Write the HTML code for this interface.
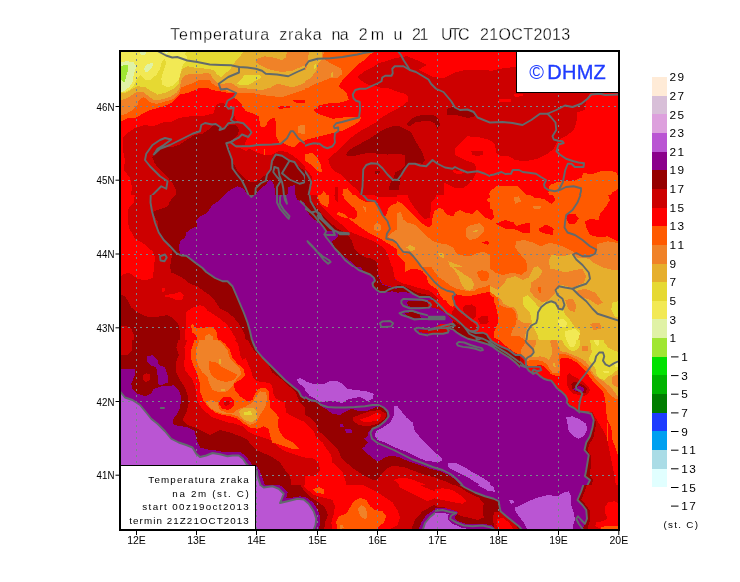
<!DOCTYPE html>
<html><head><meta charset="utf-8"><title>Temperatura zraka na 2m</title>
<style>
html,body{margin:0;padding:0;background:#fff;}
body{width:740px;height:582px;overflow:hidden;position:relative;font-family:"Liberation Sans",sans-serif;}
svg{position:absolute;left:0;top:0;display:block;will-change:transform}
text{font-family:"Liberation Sans",sans-serif;fill:#000}
.t{stroke:#fff;stroke-width:0.3}
.b{fill:none;stroke:#626a6c;stroke-width:1.9;stroke-linejoin:round;stroke-linecap:round;vector-effect:non-scaling-stroke}
.g{stroke:#78868c;stroke-width:1;stroke-dasharray:2 4;fill:none;shape-rendering:crispEdges}
.gv{stroke-dasharray:2.4 3.6}
</style></head><body>
<svg width="740" height="582" viewBox="0 0 740 582">
<rect width="740" height="582" fill="#fff"/>
<defs><clipPath id="plot"><rect x="120" y="51" width="499" height="479"/></clipPath>
<clipPath id="cA"><path clip-rule="evenodd" d="M120 50H305V195H120Z"/></clipPath>
<clipPath id="cB"><path clip-rule="evenodd" d="M305 50H490V195H305Z"/></clipPath>
<clipPath id="cC"><path clip-rule="evenodd" d="M490 50H675V195H490Z"/></clipPath>
<clipPath id="cD"><path clip-rule="evenodd" d="M120 195H305V340H120Z"/></clipPath>
<clipPath id="cE1"><path clip-rule="evenodd" d="M305 195H397V267H305Z"/></clipPath>
<clipPath id="cE2"><path clip-rule="evenodd" d="M397 195H490V267H397Z"/></clipPath>
<clipPath id="cE3"><path clip-rule="evenodd" d="M305 267H397V340H305Z"/></clipPath>
<clipPath id="cE4"><path clip-rule="evenodd" d="M397 267H490V340H397ZM428 300H520V372H428Z"/></clipPath>
<clipPath id="cF"><path clip-rule="evenodd" d="M490 195H675V340H490ZM428 300H520V372H428Z"/></clipPath>
<clipPath id="cG"><path clip-rule="evenodd" d="M120 340H305V485H120Z"/></clipPath>
<clipPath id="cH"><path clip-rule="evenodd" d="M305 340H490V485H305ZM428 300H520V372H428Z"/></clipPath>
<clipPath id="cI1"><path clip-rule="evenodd" d="M490 340H560V412H490ZM428 300H520V372H428Z"/></clipPath>
<clipPath id="cI2"><path clip-rule="evenodd" d="M560 340H675V412H560Z"/></clipPath>
<clipPath id="cI"><path clip-rule="evenodd" d="M490 412H675V485H490Z"/></clipPath>
<clipPath id="cK1"><path clip-rule="evenodd" d="M250 485H435V535H250Z"/></clipPath>
<clipPath id="cK2"><path clip-rule="evenodd" d="M435 485H620V535H435Z"/></clipPath>
<clipPath id="cP3"><path clip-rule="evenodd" d="M428 300H520V372H428Z"/></clipPath>
</defs>
<g clip-path="url(#plot)" shape-rendering="crispEdges">
<g clip-path="url(#cA)"><g transform="translate(120,50) scale(0.25)">
<rect x="-20" y="-20" width="800" height="640" fill="#ff0000"/>
<polygon fill="#cd0000" points="10,352 30,332 60,312 100,300 130,306 180,286 204,288 234,272 284,265 334,263 374,253 384,220 404,210 419,215 424,230 444,240 456,250 459,270 470,288 488,288 518,313 528,328 513,348 503,363 498,378 468,388 435,388 300,600 40,600 48,550 40,510 15,480 20,440 12,400"/>
<polygon fill="#cd0000" points="610,420 623,410 638,403 668,408 693,423 718,443 738,463 760,475 760,600 600,600 610,440"/>
<polygon fill="#960000" points="130,430 140,400 165,385 200,390 235,380 265,360 300,340 330,335 360,315 368,303 383,300 403,313 423,308 443,298 468,303 475,318 473,338 458,353 443,363 428,375 435,385 618,433 628,423 648,425 668,438 698,453 738,483 760,495 760,600 225,600 225,560 212,535 195,515 175,495 155,475 140,455"/>
<polygon fill="#cd0000" points="435,385 463,390 488,395 503,405 518,395 543,408 578,420 603,420 618,413 615,438 610,458 598,483 583,498 563,515 543,528 523,530 498,513 473,488 453,453 443,418"/>
<polygon fill="#8b008b" points="418,578 443,558 468,545 493,553 503,568 508,578 508,600 418,600"/>
<polygon fill="#8b008b" points="543,578 558,558 583,538 598,518 613,533 618,553 618,600 543,600"/>
<polygon fill="#8b008b" points="670,578 673,548 698,540 700,600 670,600"/>
<polygon fill="#ff5a00" points="0,289 30,272 65,270 90,255 120,240 165,228 200,215 220,200 240,178 270,172 300,160 320,150 350,150 368,160 398,165 433,172 463,174 456,190 473,203 488,220 503,245 533,255 556,265 560,300 568,310 585,305 590,288 596,280 608,273 620,272 623,288 625,348 638,370 658,375 678,385 698,388 718,368 738,363 760,360 760,-10 0,-10"/>
<polygon fill="#ff0000" points="693,200 738,198 760,200 760,210 713,212 695,208"/>
<polygon fill="#ff0000" points="630,225 678,222 680,232 638,235"/>
<polygon fill="#ff5a00" points="577,395 581,395 581,420 577,420"/>
<polygon fill="#f08228" points="0,262 25,255 50,240 70,220 75,200 95,188 110,200 125,212 150,215 185,205 215,195 235,175 245,150 265,142 285,135 310,122 340,118 356,118 370,135 390,148 410,155 428,165 468,172 518,170 568,180 608,185 648,188 688,175 718,165 738,158 760,150 760,-10 0,-10"/>
<polygon fill="#f08228" points="710,303 738,300 760,300 760,335 738,335 713,333"/>
<polygon fill="#e6af2d" points="0,202 30,192 55,175 70,168 95,170 115,185 135,200 165,198 200,188 225,172 240,150 245,120 260,100 280,97 300,97 325,95 350,92 362,98 372,115 392,132 410,138 430,130 450,135 473,150 518,155 568,160 603,150 628,135 653,140 688,150 718,140 738,132 760,128 760,-10 0,-10"/>
<polygon fill="#f08228" points="545,50 548,35 578,25 613,30 648,40 663,30 668,8 668,-10 760,-10 760,55 738,62 718,70 693,82 648,88 603,80 568,65"/>
<polygon fill="#e6d932" points="0,175 25,170 50,155 70,145 100,148 125,165 150,178 185,170 215,155 235,135 240,100 250,75 269,65 309,72 349,75 374,80 389,98 404,108 419,95 439,80 454,55 469,38 484,20 494,8 494,-10 0,-10"/>
<polygon fill="#e6d932" points="469,135 499,100 556,99 566,110 534,128 511,140 479,140"/>
<polygon fill="#f2e954" points="0,170 30,165 55,145 65,120 80,100 100,118 120,120 145,100 160,75 168,45 178,35 185,50 175,80 165,115 170,140 190,150 215,140 235,120 243,90 248,65 260,50 270,30 260,15 265,8 265,-10 0,-10"/>
<polygon fill="#e0f2a6" points="0,48 30,45 55,50 65,65 55,100 50,130 35,150 15,165 0,168"/>
<polygon fill="#e0f2a6" points="95,75 108,58 128,50 134,60 120,80 103,92"/>
<polygon fill="#e0f2a6" points="75,0 110,0 100,20 85,22"/>
<polygon fill="#e0f2a6" points="165,0 200,0 185,15"/>
<polygon fill="#a0e632" points="0,65 22,59 32,62 31,85 22,115 17,131 0,115"/>
</g></g>
<g clip-path="url(#cB)"><g transform="translate(305,50) scale(0.25)">
<rect x="-20" y="-20" width="800" height="640" fill="#ff0000"/>
<polygon fill="#cd0000" points="209,108 234,88 269,70 294,53 329,43 359,33 384,28 409,25 434,35 464,48 487,60 469,70 454,80 484,95 514,108 554,113 570,105 600,90 640,80 700,78 760,85 760,600 220,600 220,578 210,558 190,543 170,523 145,498 115,483 100,463 93,435 125,408 150,383 175,358 200,338 230,318 260,303 284,290 299,275 324,260 349,245 369,235 394,220 412,205 414,185 399,175 364,165 334,153 299,150 284,145 254,140 229,125"/>
<polygon fill="#ff0000" points="600,395 625,370 650,345 700,350 760,365 760,455 700,470 680,455 640,440 600,420"/>
<polygon fill="#cd0000" points="665,405 710,402 712,418 690,425 668,418"/>
<polygon fill="#ff0000" points="590,480 640,488 620,498 595,492"/>
<polygon fill="#ff0000" points="640,440 656,435 681,460 686,485 676,510 661,530 636,550 601,553 576,540 556,530 556,600 760,600 760,440"/>
<polygon fill="#cd0000" points="0,473 15,488 28,508 30,533 20,558 18,600 0,600"/>
<polygon fill="#960000" points="0,493 12,508 20,528 15,553 10,600 0,600"/>
<polygon fill="#cd0000" points="120,578 122,548 132,546 132,578"/>
<polygon fill="#960000" points="163,418 175,403 200,385 230,370 260,353 290,333 320,315 350,305 375,303 400,315 425,330 440,360 455,385 470,410 480,440 470,455 440,450 415,455 400,480 385,500 380,530 375,560 335,560 340,535 355,510 360,490 380,480 400,460 400,420 370,415 330,418 290,415 260,410 220,418 195,425 170,425"/>
<polygon fill="#960000" points="405,300 420,280 445,265 480,258 515,260 535,275 540,300 530,315 520,295 500,285 470,285 440,290 420,305"/>
<polygon fill="#960000" points="568,235 590,228 610,235 640,240 670,248 680,265 650,272 610,262 570,260"/>
<polygon fill="#960000" points="278,485 300,483 302,490 290,498 280,495"/>
<polygon fill="#ff5a00" points="0,-10 274,-10 274,8 259,20 239,40 214,55 194,75 175,95 150,120 135,145 165,170 175,200 140,210 100,212 60,220 35,240 50,255 80,265 110,275 150,270 190,268 225,270 215,288 190,303 150,323 100,335 50,348 0,360"/>
<polygon fill="#ff5a00" points="0,415 30,413 50,433 63,458 68,488 50,485 30,463 0,443"/>
<polygon fill="#ff5a00" points="65,578 75,563 85,578"/>
<polygon fill="#ff5a00" points="150,578 153,558 170,553 190,578"/>
<polygon fill="#f08228" points="0,-10 80,-10 70,30 95,50 145,75 150,95 130,110 100,112 70,125 40,135 15,150 0,152"/>
<polygon fill="#e6af2d" points="103,92 112,87 111,108 105,110"/>
<polygon fill="#e6af2d" points="17,-10 66,-10 70,34 52,52 45,83 24,111 -11,132 -11,90 0,85 10,62 12,40"/>
<polygon fill="#e6d932" points="35,62 42,55 44,72 38,76"/>
<polygon fill="#ff5a00" points="726,600 741,565 760,548 760,600"/>
</g></g>
<g clip-path="url(#cC)"><g transform="translate(490,50) scale(0.25)">
<rect x="-20" y="-20" width="800" height="640" fill="#ff0000"/>
<polygon fill="#cd0000" points="-20,85 0,85 40,75 80,70 110,65 110,0 420,0 400,170 385,200 378,240 350,250 345,290 335,320 310,340 290,350 270,365 255,395 230,415 190,435 140,445 101,440 76,425 41,423 24,410 21,380 6,365 -20,367"/>
<polygon fill="#ff0000" points="95,175 130,174 132,185 100,187"/>
<polygon fill="#ff0000" points="35,197 85,196 86,207 38,208"/>
<polygon fill="#ff5a00" points="-14,600 1,565 26,545 66,545 111,543 136,570 156,588 186,600"/>
<polygon fill="#ff5a00" points="234,570 239,540 264,530 299,523 334,525 354,515 369,510 371,490 384,490 394,498 414,495 444,485 484,483 504,490 514,505 514,555 489,570 474,600 240,600"/>
</g></g>
<g clip-path="url(#cD)"><g transform="translate(120,195) scale(0.25)">
<rect x="-20" y="-20" width="800" height="640" fill="#cd0000"/>
<polygon fill="#960000" points="225,-5 212,10 200,25 192,45 165,55 135,65 132,75 150,105 150,130 165,170 185,195 210,225 205,260 200,290 205,310 230,320 255,335 280,355 310,365 335,385 360,400 385,430 400,455 430,470 455,490 475,515 490,540 500,560 505,600 620,600 620,-5"/>
<polygon fill="#960000" points="0,398 20,405 30,420 45,450 70,470 100,485 130,490 160,485 190,480 215,495 235,520 240,550 240,600 0,600"/>
<polygon fill="#cd0000" points="0,525 20,523 45,535 55,560 55,600 0,600"/>
<polygon fill="#ff0000" points="0,-5 60,-5 55,30 35,50 30,80 35,130 60,175 95,195 130,225 140,250 135,290 133,330 100,342 70,335 35,310 10,318 0,330"/>
<polygon fill="#ff0000" points="165,375 178,372 182,382 170,388"/>
<polygon fill="#ff0000" points="180,400 215,395 240,388 255,400 250,418 225,420 200,410 182,408"/>
<polygon fill="#ff0000" points="265,470 285,452 320,440 340,448 350,462 370,475 400,495 425,515 440,535 455,560 468,585 470,600 260,600 262,535 265,500"/>
<polygon fill="#ff5a00" points="285,520 290,515 300,530 340,530 365,528 385,540 390,570 400,600 312,600 305,560 288,550"/>
<polygon fill="#f08228" points="340,565 355,555 370,565 372,600 340,600"/>
<polygon fill="#8b008b" points="420,-5 405,15 385,30 370,40 360,55 345,75 320,85 305,100 310,125 285,135 265,150 260,170 240,185 235,210 240,235 265,240 300,268 330,290 345,305 380,330 410,345 430,345 450,365 465,400 480,435 495,470 510,510 520,545 530,600 760,600 760,-5"/>
<polygon fill="#960000" points="508,-5 543,-5 535,5 520,8"/>
<polygon fill="#960000" points="700,-5 760,-5 760,40 735,30 710,20"/>
</g></g>
<g clip-path="url(#cE1)"><g transform="translate(305,195) scale(0.125)">
<rect x="-20" y="-20" width="800" height="640" fill="#ff0000"/>
<polygon fill="#cd0000" points="60,-10 95,-10 110,60 150,110 200,160 260,210 310,250 350,290 400,310 450,330 500,350 560,375 610,410 650,450 670,500 700,590 400,590 0,200 -10,-10"/>
<polygon fill="#cd0000" points="230,-10 265,-10 265,60 245,40"/>
<polygon fill="#960000" points="-10,-10 30,-10 60,60 100,110 150,170 200,220 260,270 300,290 340,320 370,355 385,400 400,440 440,475 490,500 540,510 575,540 580,590 400,590 -10,300"/>
<polygon fill="#8b008b" points="-10,100 0,110 30,150 60,185 100,215 140,250 170,285 210,290 225,275 250,290 270,320 250,345 215,375 240,420 275,460 310,490 350,520 390,550 420,590 -10,590"/>
<polygon fill="#ff5a00" points="105,-10 190,-10 190,60 180,100 150,85 120,60 105,30"/>
<polygon fill="#ff5a00" points="300,-10 320,40 350,70 390,100 415,130 420,170 400,190 330,185 280,170 250,150 270,135 310,150 340,180 380,210 420,240 460,270 500,295 540,320 580,340 620,360 660,385 700,410 750,445 750,-10"/>
<polygon fill="#ff0000" points="395,-10 430,25 470,50 520,60 560,55 585,90 600,130 640,170 655,150 665,110 690,80 750,60 750,-10"/>
<polygon fill="#cd0000" points="540,-10 580,15 650,20 750,15 750,-10"/>
<polygon fill="#f08228" points="550,245 575,225 605,240 610,275 590,290 555,280"/>
<polygon fill="#f08228" points="665,330 700,300 750,265 750,410 720,360 680,350"/>
<polygon fill="#f08228" points="460,90 490,95 488,140"/>
</g></g>
<g clip-path="url(#cE2)"><g transform="translate(397,195) scale(0.125)">
<rect x="-20" y="-20" width="800" height="640" fill="#ff5a00"/>
<polygon fill="#ff0000" points="-10,45 0,50 40,70 80,110 130,160 180,210 230,250 260,260 280,230 285,170 300,130 340,100 370,120 400,160 450,170 465,140 500,120 550,145 610,150 640,115 665,140 700,180 750,195 750,-10 -10,-10"/>
<polygon fill="#cd0000" points="80,-10 320,-10 300,30 275,60 270,120 260,185 220,190 180,150 140,100 100,40"/>
<polygon fill="#f08228" points="-10,160 0,150 25,130 40,160 50,195 90,225 130,230 170,260 210,300 250,340 290,370 330,385 400,395 450,420 470,460 500,480 560,490 600,485 640,465 690,455 750,485 750,590 200,590 170,540 130,490 100,460 50,455 0,400 -10,390"/>
<polygon fill="#ff0000" points="-10,470 0,480 60,540 70,590 -10,590"/>
<polygon fill="#f08228" points="550,270 580,245 660,225 700,260 690,300 640,345 580,360 550,330"/>
<polygon fill="#e6af2d" points="605,285 650,282 640,298 610,298"/>
<polygon fill="#e6af2d" points="75,420 100,400 140,420 145,440 110,450"/>
<polygon fill="#e6af2d" points="325,460 370,460 380,510 340,490"/>
<polygon fill="#e6af2d" points="410,530 450,545 520,570 520,590 430,590"/>
<polygon fill="#ff0000" points="680,380 720,365 735,380 730,400 700,390"/>
<polygon fill="#ff5a00" points="720,30 750,15 750,60 725,55"/>
</g></g>
<g clip-path="url(#cE3)"><g transform="translate(305,267) scale(0.125)">
<rect x="-20" y="-20" width="800" height="640" fill="#8b008b"/>
<polygon fill="#ff0000" points="700,-10 750,-10 750,115 720,95 710,50"/>
<polygon fill="#cd0000" points="580,-10 700,-10 710,50 720,100 750,118 750,170 700,160 660,150 620,135 600,100 585,60"/>
<polygon fill="#960000" points="440,-10 580,-10 585,60 600,110 620,140 660,155 700,165 750,182 750,205 700,195 650,200 600,200 570,180 545,150 560,100 545,80 510,55 470,35"/>
</g></g>
<g clip-path="url(#cE4)"><g transform="translate(397,267) scale(0.125)">
<rect x="-20" y="-20" width="800" height="640" fill="#ff0000"/>
<polygon fill="#cd0000" points="-10,105 0,110 40,130 100,145 150,160 200,175 260,190 310,230 340,270 380,310 420,340 460,370 520,400 560,420 600,440 640,470 680,510 720,540 750,560 750,590 -10,590"/>
<polygon fill="#cd0000" points="520,330 550,305 600,300 635,320 635,380 610,420 560,410 525,370"/>
<polygon fill="#cd0000" points="650,420 690,395 730,400 735,440 700,465 660,455"/>
<polygon fill="#960000" points="-10,135 0,140 60,155 100,175 150,200 200,215 260,225 300,255 340,295 380,340 420,375 450,392 480,398 530,393 580,418 620,443 650,465 680,500 710,530 750,565 750,590 -10,590"/>
<polygon fill="#8b008b" points="-10,205 0,205 60,200 120,215 180,240 260,240 310,275 350,320 390,365 430,395 470,420 520,460 560,500 600,520 640,530 660,525 700,535 730,555 750,590 -10,590"/>
<polygon fill="#960000" points="80,285 100,268 180,268 240,280 258,300 240,322 120,324 90,310"/>
<polygon fill="#960000" points="60,370 120,360 180,380 190,405 140,410 90,395"/>
<polygon fill="#cd0000" points="170,500 230,505 300,495 400,500 395,530 300,535 230,530 180,520"/>
<polygon fill="#ff5a00" points="60,45 100,20 150,15 200,30 240,80 250,130 290,160 320,180 340,220 370,260 400,290 430,310 460,330 465,300 455,250 440,230 460,215 500,225 560,235 620,225 680,210 750,198 750,-10 60,-10"/>
<polygon fill="#f08228" points="270,-10 300,40 340,85 390,120 430,150 480,175 530,185 570,195 620,190 650,170 700,160 750,138 750,-10"/>
<polygon fill="#e6af2d" points="430,-10 500,30 540,60 590,90 615,130 610,170 580,190 540,175 510,130 495,80 470,40"/>
<polygon fill="#ff5a00" points="640,40 680,25 730,40 740,80 720,110 680,115 650,80"/>
</g></g>
<g clip-path="url(#cF)"><g transform="translate(490,195) scale(0.25)">
<rect x="-20" y="-20" width="800" height="640" fill="#ff5a00"/>
<polygon fill="#ff0000" points="470,-5 530,-5 530,195 500,180 470,165 440,170 400,160 385,130 380,105 400,95 435,100 440,75 465,45 480,20"/>
<polygon fill="#ff0000" points="155,-5 250,-5 262,20 245,35 215,15 180,12"/>
<polygon fill="#ff0000" points="-5,50 12,60 15,90 5,100 -5,100"/>
<polygon fill="#ff0000" points="20,115 60,100 95,110 105,125 130,115 160,112 160,150 130,150 95,135 60,135"/>
<polygon fill="#ff0000" points="195,135 225,118 255,135 250,160 225,155 200,148"/>
<polygon fill="#ff0000" points="310,75 340,75 355,95 340,115 315,115 305,95"/>
<polygon fill="#f08228" points="95,10 115,5 125,25 100,35"/>
<polygon fill="#f08228" points="170,42 205,42 200,58 175,55"/>
<polygon fill="#f08228" points="105,185 135,180 170,190 205,205 240,190 290,205 330,225 345,240 395,250 425,225 430,195 470,185 530,195 530,600 -5,600 -5,290 20,310 50,320 90,310 125,320 150,300 145,265 120,235 100,210"/>
<polygon fill="#e6af2d" points="235,260 245,240 290,245 330,235 350,250 395,255 420,275 450,290 490,300 530,300 530,600 -5,600 -5,360 30,380 60,350 65,335 100,325 130,340 155,330 175,290 190,285 210,305 240,295"/>
<polygon fill="#f08228" points="210,305 195,330 165,350 160,385 180,410 210,430 235,420 260,395 262,375 285,360 330,370 375,350 385,325 370,295 340,300 300,310 270,300 240,295"/>
<polygon fill="#f08228" points="300,420 330,415 345,440 340,470 315,460"/>
<polygon fill="#f08228" points="340,385 380,375 420,390 450,430 430,440 400,420 360,405"/>
<polygon fill="#f08228" points="400,515 440,510 445,535 415,540"/>
<polygon fill="#f08228" points="30,405 45,420 60,445 90,455 105,485 120,505 140,513 165,513 155,525 145,540 140,565 150,600 35,600 30,500"/>
<polygon fill="#ff5a00" points="-5,385 15,398 30,410 35,420 40,445 55,470 70,495 75,530 85,565 120,568 135,575 140,600 -5,600"/>
<polygon fill="#ff5a00" points="192,370 204,368 205,390 195,392"/>
<polygon fill="#ff0000" points="-5,395 15,410 15,420 28,450 33,485 33,520 18,540 15,565 35,600 -5,600"/>
<polygon fill="#e6d932" points="130,410 150,400 175,425 195,450 215,430 245,420 262,435 270,460 295,455 300,480 320,500 340,530 360,540 350,600 200,600 190,560 170,520 160,470 135,445"/>
<polygon fill="#e6d932" points="490,430 530,420 530,490 500,488 485,460"/>
<polygon fill="#f2e954" points="270,500 295,495 310,515 300,530 275,525"/>
<polygon fill="#f2e954" points="300,545 340,535 360,555 345,600 305,600"/>
</g></g>
<g clip-path="url(#cG)"><g transform="translate(120,340) scale(0.25)">
<rect x="-20" y="-20" width="800" height="640" fill="#cd0000"/>
<polygon fill="#960000" points="-5,-5 235,-5 225,30 235,60 222,95 225,130 240,160 260,190 270,220 275,250 265,290 250,320 270,340 300,350 330,365 360,380 380,370 400,360 440,370 480,385 510,400 530,425 545,440 580,455 610,470 640,490 660,520 680,545 690,600 -5,600"/>
<polygon fill="#960000" points="511,-5 524,25 539,45 564,65 584,85 599,110 609,130 629,145 649,160 669,180 689,195 704,210 711,230 719,250 734,265 749,280 765,295 765,-5"/>
<polygon fill="#cd0000" points="-5,-5 50,-5 48,40 30,60 -5,62"/>
<polygon fill="#cd0000" points="92,140 105,133 120,138 120,158 105,168 92,160"/>
<polygon fill="#ff0000" points="270,-5 258,30 262,60 255,95 262,125 285,150 300,185 305,215 310,245 325,270 345,290 370,310 400,320 430,330 460,335 490,345 510,365 540,380 570,390 600,400 625,420 650,440 690,455 720,465 760,475 760,335 720,320 690,305 664,290 662,270 659,250 644,245 624,235 614,215 612,195 604,175 584,170 549,165 532,150 524,120 512,95 504,73 489,80 479,55 477,30 469,10 449,-5"/>
<polygon fill="#8b008b" points="530,-5 545,40 570,70 600,100 630,130 660,160 690,185 715,205 725,225 740,235 760,238 760,-5"/>
<polygon fill="#ba55d3" points="709,155 724,153 744,165 764,175 794,185 794,232 774,228 759,210 744,195 724,180 711,170"/>
<polygon fill="#8b008b" points="-5,115 60,115 60,140 45,175 50,195 70,215 100,225 125,215 135,195 165,185 195,185 215,180 235,200 245,230 240,270 225,300 210,320 215,340 245,345 270,350 300,365 305,400 320,430 345,437 370,440 400,445 425,450 450,448 480,448 500,460 517,483 530,500 548,503 560,525 570,550 578,575 590,585 590,600 -5,600"/>
<polygon fill="#8b008b" points="110,65 130,60 150,80 155,100 180,110 190,140 190,170 165,182 150,175 150,140 145,110 120,100 108,85"/>
<polygon fill="#ba55d3" points="-5,200 0,205 20,230 50,240 80,260 105,290 125,315 150,335 180,365 205,395 235,410 265,420 290,430 305,455 320,468 345,462 370,452 400,457 430,465 450,462 475,462 492,475 505,495 520,508 540,518 548,525 550,545 555,560 562,580 570,592 570,600 -5,600"/>
<polygon fill="#ff5a00" points="300,-5 285,40 285,75 295,105 310,140 320,175 322,210 335,245 355,270 380,290 410,300 440,305 470,315 495,335 520,350 550,355 575,345 595,355 600,380 610,410 640,420 670,430 700,438 715,435 690,410 660,395 640,370 630,340 635,310 620,290 600,270 598,240 595,205 580,190 555,195 540,215 530,240 510,245 480,225 460,200 455,175 480,160 500,140 495,115 470,95 450,70 440,40 420,15 395,-5"/>
<polygon fill="#ff0000" points="395,245 410,230 440,228 458,245 455,265 435,280 410,275 398,260"/>
<polygon fill="#cd0000" points="415,245 435,243 440,255 425,265 415,258"/>
<polygon fill="#f08228" points="320,-5 305,40 305,75 315,105 330,130 350,150 360,180 370,200 400,210 430,205 445,190 470,150 485,135 480,115 460,95 440,75 430,40 410,15 385,-5"/>
<polygon fill="#ff5a00" points="358,85 385,90 410,110 440,125 470,140 455,160 425,168 390,160 365,140 355,110"/>
<polygon fill="#e6af2d" points="395,78 404,75 406,95 397,97"/>
<polygon fill="#e6af2d" points="403,196 420,195 420,202 404,203"/>
<polygon fill="#f08228" points="345,250 365,240 390,250 400,280 425,290 455,290 475,275 505,265 530,250 545,225 560,205 585,210 588,240 580,270 560,300 545,330 520,340 495,325 470,305 440,295 410,295 380,285 360,270"/>
<polygon fill="#e6af2d" points="475,285 495,272 530,270 550,285 548,315 525,330 500,320 482,305"/>
<polygon fill="#e6d932" points="495,287 525,285 527,300 497,302"/>
</g></g>
<g clip-path="url(#cH)"><g transform="translate(305,340) scale(0.25)">
<rect x="-20" y="-20" width="800" height="640" fill="#8b008b"/>
<polygon fill="#ba55d3" points="-5,160 0,165 30,175 70,178 100,165 130,165 150,175 170,195 200,200 245,205 275,215 270,235 250,245 235,235 220,228 195,232 165,240 150,252 120,245 90,245 60,248 40,235 20,225 0,200 -5,195"/>
<polygon fill="#ba55d3" points="355,265 370,265 390,290 405,310 430,330 440,365 465,395 490,420 520,450 545,470 550,485 520,488 480,482 440,465 400,445 360,430 320,410 290,400 278,380 285,365 310,350 340,330 355,300"/>
<polygon fill="#ba55d3" points="570,490 600,490 640,510 670,530 700,545 740,570 760,585 760,600 720,600 700,580 660,555 620,535 590,520 570,505"/>
<polygon fill="#960000" points="-5,232 20,245 45,250 65,265 90,280 110,295 140,300 165,285 185,275 215,285 250,282 280,270 300,265 318,275 328,290 330,305 318,322 295,340 270,352 255,365 250,385 235,395 250,410 240,425 228,435 250,455 275,475 290,488 320,470 345,462 380,470 420,488 460,500 500,515 540,525 575,540 600,558 620,580 640,600 -5,600"/>
<polygon fill="#cd0000" points="-5,298 0,300 20,310 45,335 55,365 80,385 105,410 130,435 145,470 165,490 195,515 240,545 270,560 290,558 320,520 350,502 400,510 440,525 480,540 520,550 560,565 600,585 640,610 -5,610"/>
<polygon fill="#ff0000" points="-5,328 0,330 15,345 35,365 45,390 70,410 90,440 105,460 110,490 130,510 150,530 160,555 170,600 -5,600"/>
<polygon fill="#cd0000" points="-5,470 30,472 55,490 60,520 40,545 -5,545"/>
<polygon fill="#ff0000" points="355,560 380,550 420,555 460,570 500,585 540,600 420,600 380,580"/>
<polygon fill="#cd0000" points="190,310 215,300 260,285 300,280 325,295 320,315 290,335 250,345 215,340 195,325"/>
<polygon fill="#ff0000" points="220,318 250,308 290,290 305,300 295,320 260,328 230,326"/>
<polygon fill="#8b008b" points="140,338 153,336 155,348 142,349"/>
<polygon fill="#8b008b" points="158,355 185,355 190,370 165,372"/>
<polygon fill="#cd0000" points="670,-5 760,-5 760,20 720,8"/>
</g></g>
<g clip-path="url(#cI1)"><g transform="translate(490,340) scale(0.125)">
<rect x="-20" y="-20" width="800" height="640" fill="#ff0000"/>
<polygon fill="#cd0000" points="-10,40 60,70 110,100 150,125 190,150 215,140 245,135 270,160 280,215 300,255 345,290 395,305 430,330 480,340 510,370 560,420 590,445 620,480 650,550 750,590 -10,590"/>
<polygon fill="#cd0000" points="600,350 620,290 640,270 660,290 680,330 720,340 750,335 750,400 700,400 660,395 640,420 610,400"/>
<polygon fill="#960000" points="660,350 700,340 750,345 750,380 700,385 670,380"/>
<polygon fill="#960000" points="-10,55 60,85 110,115 150,140 190,165 240,200 280,235 300,265 345,295 395,310 430,335 480,345 505,375 530,405 560,430 590,460 610,490 620,530 680,570 750,590 -10,590"/>
<polygon fill="#ff5a00" points="60,-10 100,25 150,60 195,100 215,120 245,118 270,135 290,165 292,200 330,210 400,200 430,210 460,240 485,270 520,285 560,290 585,265 575,220 570,170 590,145 640,150 690,160 750,175 750,-10"/>
<polygon fill="#f08228" points="245,100 255,60 280,30 285,-10 750,-10 750,140 700,125 640,115 590,110 560,100 550,130 555,180 560,240 540,265 500,260 480,235 460,200 430,175 400,165 350,160 300,165 280,150 260,125"/>
<polygon fill="#e6af2d" points="370,-10 365,40 350,70 345,100 320,130 350,140 400,130 440,140 470,160 490,130 500,90 490,50 480,10 500,-10"/>
<polygon fill="#e6af2d" points="530,-10 545,40 560,70 600,95 660,105 720,110 750,115 750,-10"/>
<polygon fill="#e6af2d" points="505,185 520,180 525,215 510,220"/>
<polygon fill="#e6d932" points="565,-10 580,30 610,60 640,85 690,90 730,80 750,75 750,-10"/>
<polygon fill="#f2e954" points="620,-10 625,30 645,60 680,65 705,40 715,10 720,-10"/>
<polygon fill="#8b008b" points="-10,35 30,52 70,80 110,110 150,140 190,170 240,200 285,218 310,245 345,270 395,285 430,310 460,320 490,325 510,350 535,385 560,405 590,430 615,460 620,490 615,510 640,535 680,550 710,570 750,578 750,590 -10,590"/>
<polygon fill="#960000" points="-10,20 0,25 30,40 70,55 110,80 150,105 190,130 240,175 285,215 285,218 240,200 190,170 150,140 110,110 70,80 30,52 -10,35"/>
</g></g>
<g clip-path="url(#cI2)"><g transform="translate(548,340) scale(0.125)">
<rect x="-20" y="-20" width="800" height="640" fill="#e6af2d"/>
<polygon fill="#f08228" points="-10,30 30,20 60,40 80,70 100,90 150,100 200,120 250,140 300,170 330,210 350,250 380,290 430,320 480,360 520,400 550,440 570,460 590,460 590,590 -10,590"/>
<polygon fill="#f08228" points="510,300 540,280 590,270 590,380 530,370 510,340"/>
<polygon fill="#f08228" points="275,45 320,45 320,90 275,90"/>
<polygon fill="#f08228" points="-10,-10 40,-10 30,20 -10,30"/>
<polygon fill="#ff5a00" points="-10,250 40,250 70,230 80,180 85,120 110,110 160,120 220,150 270,185 310,220 340,260 370,300 410,340 450,380 480,420 510,450 540,470 590,485 590,590 -10,590"/>
<polygon fill="#ff0000" points="-10,285 60,290 90,260 95,200 100,150 130,140 180,150 230,180 270,215 300,250 330,290 360,330 400,370 430,400 450,440 460,500 470,590 -10,590"/>
<polygon fill="#e6d932" points="110,-10 130,40 170,80 210,90 240,70 260,30 250,-10"/>
<polygon fill="#f2e954" points="150,-10 160,30 185,60 210,55 225,25 225,-10"/>
<polygon fill="#e6d932" points="330,-10 345,40 350,100 330,140 330,170 360,200 380,230 390,280 420,310 450,320 480,290 510,280 540,250 590,225 590,100 540,90 480,60 450,20 445,-10"/>
<polygon fill="#f2e954" points="360,-10 380,30 400,50 410,20 405,-10"/>
<polygon fill="#f2e954" points="440,245 490,245 490,265 445,262"/>
<polygon fill="#f2e954" points="520,180 590,168 590,220 540,215"/>
<polygon fill="#e6d932" points="35,190 52,185 55,220 38,225"/>
<polygon fill="#cd0000" points="150,290 170,265 200,290 240,310 290,340 320,370 335,400 320,430 290,450 250,440 200,430 170,400 150,350"/>
<polygon fill="#960000" points="185,350 210,335 250,345 290,365 310,390 300,420 270,420 230,415 195,395"/>
<polygon fill="#8b008b" points="195,395 230,380 250,365 280,380 290,400 270,420 230,410"/>
<polygon fill="#cd0000" points="-10,330 30,335 60,370 100,400 140,440 160,480 170,510 200,530 240,560 260,590 -10,590"/>
<polygon fill="#8b008b" points="-10,320 0,320 30,325 50,360 80,395 110,415 140,445 155,475 150,500 170,525 210,545 240,570 250,590 -10,590"/>
</g></g>
<g clip-path="url(#cI)"><g transform="translate(490,340) scale(0.25)">
<rect x="-20" y="-20" width="800" height="640" fill="#ff0000"/>
<polygon fill="#ff5a00" points="462,270 470,320 485,350 490,400 505,440 515,470 530,480 530,270"/>
<polygon fill="#ff5a00" points="468,330 472,330 472,420 468,420"/>
<polygon fill="#cd0000" points="405,280 425,316 449,355 468,393 477,441 487,489 497,537 506,600 380,600 380,280"/>
<polygon fill="#960000" points="405,295 425,330 420,360 412,395 395,420 392,445 405,465 405,500 398,540 412,560 400,600 380,600 380,295"/>
<polygon fill="#8b008b" points="-5,270 355,270 355,285 385,290 405,295 415,320 410,350 400,385 385,410 378,440 395,460 390,490 385,520 380,545 400,560 385,600 -5,600"/>
<polygon fill="#ba55d3" points="305,310 330,305 360,318 385,335 388,360 375,385 355,395 335,385 315,365 310,335"/>
</g></g>
<g clip-path="url(#cK1)"><g transform="translate(250,460) scale(0.25)">
<rect x="-20" y="-20" width="800" height="640" fill="#cd0000"/>
<polygon fill="#960000" points="-5,-5 120,-5 150,30 175,60 195,90 215,120 245,150 275,170 300,190 312,220 300,250 295,290 -5,290"/>
<polygon fill="#ff0000" points="190,55 230,50 270,45 290,20 300,-5 360,-5 380,30 400,60 430,90 470,110 510,130 540,150 570,170 590,200 600,230 590,260 560,275 540,290 330,290 325,250 335,215 340,185 330,160 290,150 255,140 225,115 200,85"/>
<polygon fill="#ff0000" points="580,80 620,75 660,90 700,110 740,125 745,150 710,165 680,150 640,130 600,110"/>
<polygon fill="#ff5a00" points="345,245 355,225 385,215 400,190 415,165 440,152 465,160 480,185 500,200 530,205 545,225 535,250 510,270 490,290 350,290"/>
<polygon fill="#ff5a00" points="250,118 275,108 298,118 295,135 270,133"/>
<polygon fill="#f08228" points="432,195 445,180 462,190 470,215 465,238 445,228 435,210"/>
<polygon fill="#f08228" points="360,262 372,258 375,272 362,275"/>
<polygon fill="#8b008b" points="-5,40 40,50 50,85 65,98 95,92 125,105 150,130 145,150 170,150 200,145 225,150 250,168 272,200 282,235 278,265 270,290 -5,290"/>
<polygon fill="#ba55d3" points="-5,60 25,60 35,95 55,110 90,105 115,115 135,135 125,160 120,172 150,165 190,155 215,158 235,175 255,205 265,235 262,260 250,290 -5,290"/>
<polygon fill="#960000" points="640,290 660,240 690,205 745,175 745,290"/>
<polygon fill="#8b008b" points="670,290 685,250 705,220 745,195 745,290"/>
<polygon fill="#ba55d3" points="690,290 700,255 720,230 745,210 745,290"/>
</g></g>
<g clip-path="url(#cK2)"><g transform="translate(435,460) scale(0.25)">
<rect x="-20" y="-20" width="800" height="640" fill="#8b008b"/>
<polygon fill="#ba55d3" points="50,10 90,15 130,40 170,65 210,90 235,110 240,128 210,122 170,100 140,80 100,55 65,40 50,25"/>
<polygon fill="#ba55d3" points="295,162 310,158 318,168 305,175"/>
<polygon fill="#ba55d3" points="320,190 345,180 375,165 410,150 450,140 490,145 515,130 535,125 545,145 545,180 555,210 560,240 550,265 555,290 375,290 355,250 335,225 322,205"/>
<polygon fill="#960000" points="-5,33 0,35 30,45 60,65 90,90 120,110 160,130 200,145 235,155 255,165 258,185 262,205 285,225 310,245 335,265 358,290 -5,290"/>
<polygon fill="#cd0000" points="-5,75 30,78 60,90 100,110 140,135 175,150 195,175 190,205 195,230 170,240 140,232 105,225 70,205 40,190 0,185 -5,185"/>
<polygon fill="#cd0000" points="235,210 260,205 290,230 320,255 342,290 240,290 232,240"/>
<polygon fill="#ff0000" points="250,235 275,232 300,255 322,290 260,290 245,260"/>
<polygon fill="#ff0000" points="-5,118 30,113 70,120 100,140 125,165 110,175 70,168 30,160 0,155 -5,155"/>
<polygon fill="#8b008b" points="-5,195 30,190 65,198 95,208 80,225 78,235 100,248 130,258 190,255 230,262 245,290 -5,290"/>
<polygon fill="#ba55d3" points="-5,215 30,210 55,218 50,235 70,255 110,272 150,278 200,275 235,285 235,290 -5,290"/>
<polygon fill="#960000" points="612,-5 605,30 600,55 612,70 618,85 595,95 585,125 570,160 590,180 605,200 608,235 600,255 590,275 597,290 745,290 745,-5"/>
<polygon fill="#cd0000" points="622,-5 615,30 612,55 624,70 628,90 607,100 598,128 585,160 602,178 618,200 620,240 612,265 610,290 745,290 745,-5"/>
<polygon fill="#ff0000" points="680,185 695,168 720,165 745,180 745,270 700,275 660,275 640,265 645,250 670,245 690,235 680,210"/>
<polygon fill="#ff5a00" points="665,270 685,262 745,265 745,285 665,282"/>
</g></g>
<g clip-path="url(#cP3)"><g transform="translate(428,300) scale(0.125)">
<rect x="-20" y="-20" width="800" height="640" fill="#ff0000"/>
<polygon fill="#ff5a00" points="135,-10 210,-10 215,40 200,55 175,45 155,20"/>
<polygon fill="#cd0000" points="275,70 300,40 350,35 385,60 385,130 365,155 330,140 290,100"/>
<polygon fill="#cd0000" points="400,150 430,130 480,130 485,175 460,195 420,190"/>
<polygon fill="#cd0000" points="215,60 250,95 300,135 350,175 385,200 390,230 360,245 320,235 300,215 260,185 220,150 185,125 190,100"/>
<polygon fill="#ff5a00" points="520,-10 540,40 555,100 560,180 540,230 525,260 530,300 570,320 600,350 640,380 680,410 720,435 750,440 750,-10"/>
<polygon fill="#f08228" points="570,40 620,60 680,70 700,100 710,150 700,200 670,250 665,290 720,290 750,280 750,-10 565,-10"/>
<polygon fill="#e6af2d" points="590,-10 600,30 640,50 690,60 715,100 720,160 750,165 750,-10"/>
<polygon fill="#960000" points="40,-10 50,0 80,30 120,70 150,105 185,125 220,150 260,185 300,225 340,250 380,265 440,262 470,275 485,300 510,330 550,355 590,375 640,395 680,425 700,440 750,445 750,550 700,500 650,460 600,430 560,405 520,375 480,355 430,340 380,325 320,310 270,285 230,260 200,235 175,240 165,245 150,225 200,185 200,165 175,140 140,105 90,75 30,60 -10,55 -10,-10"/>
<polygon fill="#cd0000" points="40,-10 50,0 80,30 120,70 150,105 185,125 220,150 260,185 250,200 200,165 175,140 140,105 90,75 30,60 -10,55 -10,-10"/>
<polygon fill="#8b008b" points="-10,55 30,60 90,75 140,105 175,140 200,165 185,185 150,190 110,190 80,205 40,225 0,238 -10,240"/>
<polygon fill="#cd0000" points="-10,240 40,228 100,222 150,225 165,245 150,262 120,270 40,270 -10,280"/>
<polygon fill="#8b008b" points="-10,282 40,272 120,272 160,262 175,240 200,235 230,260 270,285 320,310 380,325 430,340 480,355 520,375 560,405 600,430 650,460 700,500 750,550 750,590 -10,590"/>
</g></g>
</g>
<g clip-path="url(#plot)">
<line class="g gv" x1="136.5" y1="53" x2="136.5" y2="529"/>
<line class="g gv" x1="196.5" y1="53" x2="196.5" y2="529"/>
<line class="g gv" x1="256.5" y1="53" x2="256.5" y2="529"/>
<line class="g gv" x1="317.5" y1="53" x2="317.5" y2="529"/>
<line class="g gv" x1="377.5" y1="53" x2="377.5" y2="529"/>
<line class="g gv" x1="437.5" y1="53" x2="437.5" y2="529"/>
<line class="g gv" x1="498.5" y1="53" x2="498.5" y2="529"/>
<line class="g gv" x1="558.5" y1="53" x2="558.5" y2="529"/>
<line class="g" x1="122" y1="106.5" x2="618" y2="106.5"/>
<line class="g" x1="122" y1="180.5" x2="618" y2="180.5"/>
<line class="g" x1="122" y1="254.5" x2="618" y2="254.5"/>
<line class="g" x1="122" y1="327.5" x2="618" y2="327.5"/>
<line class="g" x1="122" y1="401.5" x2="618" y2="401.5"/>
<line class="g" x1="122" y1="475.5" x2="618" y2="475.5"/>
</g>
<g clip-path="url(#plot)">
<g clip-path="url(#cA)"><g transform="translate(120,50) scale(0.25)">
<polyline class="b" points="150,4 184,22 209,30 229,28 249,35 269,42 309,48 359,58 404,60 444,61 476,68 509,70 543,75 568,83 583,95 628,98 673,105 708,88 738,75 760,65"/>
<polyline class="b" points="476,68 476,90 433,108 395,135 403,158 428,155 465,172 455,188 430,203 423,222 433,235 455,230 450,265 443,280 458,290 468,288 493,293 518,318 526,330 513,348 488,338 476,350 458,358 443,370 463,385 518,385 548,380 608,378 643,375 668,353 683,325 693,325 713,353 738,373 760,385"/>
<polyline class="b" points="125,585 150,560 165,545 185,555 190,525 160,505 140,485 120,465 100,440 105,415 130,380 160,360 180,352 205,358 175,380 150,395 135,418 160,395 200,380 250,355 290,335 320,325 325,300 340,292 368,298 383,296 403,310 398,320 418,313 433,293 458,290"/>
<polyline class="b" points="476,350 443,368 425,373 433,398 448,438 450,473 468,498 488,523 503,553 513,578 518,590"/>
<polyline class="b" points="540,590 541,578 543,553 563,533 583,523 588,498 603,478 608,443 623,418 648,423 678,443 648,493 678,518 718,535 736,530 742,520 738,503"/>
<polyline class="b" points="678,443 698,448 713,473 738,503"/>
<polyline class="b" points="618,468 633,473 638,503 648,528 653,553 656,585"/>
<polyline class="b" points="618,468 613,488 628,508 643,523 628,548 628,585"/>
</g></g>
<g clip-path="url(#cB)"><g transform="translate(305,50) scale(0.25)">
<polyline class="b" points="-20,75 0,65 15,45 50,35 100,33 150,28 184,22 209,18 234,12 274,6"/>
<polyline class="b" points="-10,385 0,383 15,378 35,373 58,375 75,388 90,393 110,385 120,370 118,353 120,333 133,325 133,310 118,313 115,305 125,293 148,288 184,278 204,273 216,270 220,240 219,208 204,203 194,193 191,178 201,160 219,155 244,155 269,143 291,133 306,125 309,110 321,103 346,103 351,93 349,75 359,65 394,65 419,80 444,88 469,103 494,118 504,135 524,155 554,168 585,205 600,230 620,240 650,238 675,248 690,270 740,290 760,296"/>
<polyline class="b" points="371,4 384,20 394,40 409,63 419,80"/>
<polyline class="b" points="225,590 225,578 230,548 233,478 245,460 265,453 290,455 310,473 330,498 350,518 370,520 385,500 400,475 415,455 440,455 460,462 485,465 500,450 510,440 530,455 560,470 590,475 600,468 620,478 650,490 690,485 720,495 740,505 760,510"/>
<polyline class="b" points="-5,480 0,485 12,503 25,528 20,553 12,590"/>
</g></g>
<g clip-path="url(#cC)"><g transform="translate(490,50) scale(0.25)">
<polyline class="b" points="-20,288 0,290 50,288 90,292 130,300 165,280 200,255 230,255 265,240 300,222 330,228 365,215 390,195 405,178 440,175 460,180 520,178"/>
<polyline class="b" points="230,255 245,270 262,290 265,320 250,345 255,358 274,363 290,365 295,372 274,378 266,405 279,418 304,435 334,445 354,450 376,453 374,468 339,468 326,455 311,455 301,480 296,505 291,530 279,553 274,560"/>
<polyline class="b" points="-20,505 16,498 31,493 46,488 61,496 84,495 91,480 116,480 131,488 156,491 184,495 204,508 224,520 216,538 219,550 234,560 259,565 284,558 304,548 334,545 364,553 364,565 354,600"/>
</g></g>
<g clip-path="url(#cD)"><g transform="translate(120,195) scale(0.25)">
<polyline class="b" points="123,-5 122,30 128,65 140,110 155,150 175,180 200,205 225,232 245,242 265,243 300,270 330,292 345,308 380,332 410,345 430,345 450,365 465,400 480,435 495,470 510,510 520,545 530,590"/>
<polyline class="b" points="160,245 180,238 187,250 178,265 162,262 160,245"/>
<polyline class="b" points="515,-5 525,8 538,-5"/>
<polyline class="b" points="628,-5 628,30 640,55 665,85 675,95 678,85 655,60 640,35 640,10 645,-5"/>
<polyline class="b" points="655,-5 660,20 668,35 662,10 660,-5"/>
<polyline class="b" points="722,25 745,48"/>
</g></g>
<g clip-path="url(#cE1)"><g transform="translate(305,195) scale(0.125)">
<polyline class="b" points="-10,80 0,90 30,120 70,160 110,210 150,260 170,290 155,315 170,340 210,390 240,430 280,470 320,520 370,560 410,590"/>
<polyline class="b" points="35,-10 45,50 80,110 110,160 150,200 200,250 230,280 275,300 350,305 350,315 280,315 250,290 225,290 240,320 180,320 155,315"/>
<polyline class="b" points="-10,105 0,110 50,140 90,130 120,150 140,190 110,180 100,215"/>
<polyline class="b" points="100,170 150,215 200,265 240,290"/>
<polyline class="b" points="20,370 60,410 100,455 140,490 190,520 205,535 185,550 150,520 110,470 70,425 30,385 20,370"/>
<polyline class="b" points="455,-10 500,40 560,50 590,100 620,160 660,210 680,270 655,310 650,350 700,360 750,395"/>
</g></g>
<g clip-path="url(#cE2)"><g transform="translate(397,195) scale(0.125)">
<polyline class="b" points="-10,380 0,390 20,420 50,455 100,460 130,490 170,540 205,590"/>
</g></g>
<g clip-path="url(#cE3)"><g transform="translate(305,267) scale(0.125)">
<polyline class="b" points="390,-10 400,0 430,25 470,40 520,60 550,85 560,110 540,130 545,155 575,185 600,200 640,200 670,180 710,165 750,158"/>
<polyline class="b" points="600,450 620,435 680,432 705,450 690,475 640,480 610,480 600,450"/>
</g></g>
<g clip-path="url(#cE4)"><g transform="translate(397,267) scale(0.125)">
<polyline class="b" points="-10,160 50,160 80,180 130,215 180,240 260,240 310,275 350,320 390,365 430,395 470,420 520,460 560,500 600,520 640,530 660,525 700,535 730,555 750,590"/>
<polyline class="b" points="430,395 480,400 530,395 580,420 620,445 650,465 655,495 630,515 600,515 560,505"/>
<polyline class="b" points="35,270 50,255 120,258 200,262 250,275 275,300 250,325 180,330 100,330 50,310 35,290 35,270"/>
<polyline class="b" points="20,370 60,355 120,350 180,370 240,385 320,395 380,395 385,420 320,420 200,415 140,420 90,400 40,385 20,370"/>
<polyline class="b" points="140,495 170,485 230,495 280,488 330,485 400,490 440,480 470,485 440,500 410,520 400,540 300,545 260,550 180,535 150,510 140,495"/>
<polyline class="b" points="190,-10 240,50 300,120 350,165 400,190 450,200 465,220 445,235 455,290 480,330 520,365 570,400 610,430 640,450 655,470"/>
</g></g>
<g clip-path="url(#cF)"><g transform="translate(490,195) scale(0.25)">
<polyline class="b" points="364,-5 362,0 350,30 330,60 305,80 300,110 298,130 310,150 340,160 370,180 400,205 425,218 420,235 400,245 370,245 345,232 332,238 345,258 370,280 395,310 400,335 385,355 355,365 330,375 300,370 275,365 262,380 270,400 290,415 298,440 290,458 275,455 262,432 245,425 225,432 205,448 192,470 190,495 185,512 165,522 150,545 145,590"/>
<polyline class="b" points="330,375 355,400 385,425 410,455 430,475 470,488 530,508"/>
</g></g>
<g clip-path="url(#cG)"><g transform="translate(120,340) scale(0.25)">
<polyline class="b" points="-5,200 0,205 20,230 50,240 80,260 105,290 125,315 150,335 180,365 205,395 235,410 265,420 290,430 305,455 320,468 345,462 370,452 400,457 430,465 450,462 475,462 492,475 505,495 520,508 540,518 548,525 550,545 555,560 562,580 570,592"/>
<polyline class="b" points="527,-5 532,10 545,40 570,70 600,100 630,130 660,160 690,185 715,205 725,225 745,238 760,240"/>
<polyline class="b" points="163,272 176,272"/>
</g></g>
<g clip-path="url(#cH)"><g transform="translate(305,340) scale(0.25)">
<polyline class="b" points="-5,225 0,228 20,240 45,245 65,260 90,268 120,270 160,270 200,268 240,265 270,260 295,260 315,270 330,285 335,305 320,325 295,345 270,355 262,372 268,395 290,412 320,425 355,440 390,458 430,478 470,492 510,508 550,520 580,535 605,555 625,575 640,595"/>
<polyline class="b" points="605,10 620,5 660,12 705,28 710,40 690,38 650,25 615,22 605,10"/>
<polyline class="b" points="685,-5 740,18 760,25"/>
</g></g>
<g clip-path="url(#cI1)"><g transform="translate(490,340) scale(0.125)">
<polyline class="b" points="-10,20 0,25 30,40 70,55 110,80 150,105 190,130 215,125 245,120 270,140 285,160 290,215 310,245 345,270 370,260 395,285 430,310 460,320 490,325 510,350 535,385 560,405 590,430 615,460 620,490 615,510 640,535 680,550 710,570 750,578"/>
<polyline class="b" points="280,-10 290,20 320,50 345,75 350,100 330,125 300,140 285,160"/>
<polyline class="b" points="290,215 340,215 400,215 410,240 380,250 350,235 340,250 345,270"/>
<polyline class="b" points="190,130 240,175 285,215"/>
<polyline class="b" points="-10,35 30,52 70,80 110,110 150,140 190,170 240,200 285,218"/>
</g></g>
<g clip-path="url(#cI2)"><g transform="translate(548,340) scale(0.125)">
<polyline class="b" points="-10,320 30,325 50,360 80,395 110,415 140,445 155,475 150,500 170,525 210,545 240,570 290,575 330,580"/>
<polyline class="b" points="590,165 565,170 530,185 490,210 460,195 440,165 450,130 440,100 410,100 385,130 375,170 340,215 300,270 260,320 225,370 225,390 260,410 275,430 260,470 250,520 245,590"/>
</g></g>
<g clip-path="url(#cI)"><g transform="translate(490,340) scale(0.25)">
<polyline class="b" points="335,270 355,285 385,290 405,295 415,320 410,350 400,385 385,410 378,440 395,460 390,490 385,520 380,545 400,560 385,590"/>
<polyline class="b" points="358,270 357,290"/>
</g></g>
<g clip-path="url(#cK1)"><g transform="translate(250,460) scale(0.25)">
<polyline class="b" points="15,40 25,60 35,95 55,110 90,105 115,115 135,135 125,160 120,172 150,165 190,155 215,158 235,175 255,205 265,235 262,260 250,290"/>
<polyline class="b" points="688,290 700,252 720,228 745,208"/>
</g></g>
<g clip-path="url(#cK2)"><g transform="translate(435,460) scale(0.25)">
<polyline class="b" points="-5,33 0,35 30,45 60,65 90,90 120,110 160,130 200,145 235,155 255,165 258,185 262,205 285,225 310,245 335,265 358,290"/>
<polyline class="b" points="-5,205 30,200 60,208 85,212 65,222 60,235 85,250 115,262 150,265 190,262 225,270 240,280"/>
<polyline class="b" points="610,-5 605,30 600,55 612,70 618,85 595,95 585,125 570,160 590,180 605,200 608,235 600,255 585,240 572,225 565,235 575,255 590,275 597,290"/>
</g></g>
<g clip-path="url(#cP3)"><g transform="translate(428,300) scale(0.125)">
<polyline class="b" points="40,-10 50,0 80,30 120,70 150,105 185,125 220,150 260,185 300,225 340,250 380,265 440,262 470,275 485,300 510,330 550,355 590,375 640,395 680,425 700,440 750,440"/>
<polyline class="b" points="205,-10 215,40 250,80 300,120 350,160 390,185 405,215 395,240 370,250 340,250"/>
<polyline class="b" points="-10,243 40,235 100,225 150,225 200,235 230,260 270,285 320,310 380,325 430,340 480,355 520,375 560,405 600,430 650,460 700,500 750,548"/>
<polyline class="b" points="300,225 330,270 380,295 440,310 490,335 540,370 580,395 630,425 680,460 720,490 750,510"/>
<polyline class="b" points="-10,280 40,270 120,270 160,260 165,245 150,225"/>
<polyline class="b" points="-10,240 40,228 100,215 150,200 200,190 215,205 180,215 150,225"/>
<polyline class="b" points="-10,133 132,133 132,155 -10,155"/>
<polyline class="b" points="-10,144 132,144"/>
<polyline class="b" points="230,350 245,335 290,340 340,360 390,375 430,385 440,400 420,405 380,390 330,380 280,375 240,365 230,350"/>
<polyline class="b" points="-10,15 15,25 25,40 10,60 -10,65"/>
</g></g>
</g>
<rect x="516" y="51" width="103" height="42" fill="#000"/>
<rect x="517" y="52" width="101" height="40" fill="#fff"/>
<text x="529.2" y="78.7" font-size="20" style="fill:#1f3cff">©</text>
<text x="547.3" y="78.7" font-size="20" style="fill:#1f3cff;stroke:#1f3cff;stroke-width:0.35" textLength="58.5" lengthAdjust="spacing">DHMZ</text>
<rect x="120" y="465" width="136" height="65" fill="#000"/>
<rect x="121" y="466" width="134" height="63" fill="#fff"/>
<text x="148.3" y="483.2" font-size="9.8" textLength="100.5" lengthAdjust="spacing">Temperatura zraka</text>
<text x="172.3" y="496.7" font-size="9.8" textLength="76.5" lengthAdjust="spacing">na 2m (st. C)</text>
<text x="142.3" y="510.2" font-size="9.8" textLength="106.5" lengthAdjust="spacing">start 00z19oct2013</text>
<text x="129.3" y="523.7" font-size="9.8" textLength="119.5" lengthAdjust="spacing">termin 21Z21OCT2013</text>
<rect x="120" y="51" width="499" height="479" fill="none" stroke="#000" stroke-width="2"/>
<line x1="136.5" y1="531" x2="136.5" y2="535" stroke="#000" stroke-width="1"/>
<text x="136.5" y="543.8" font-size="10.5" text-anchor="middle">12E</text>
<line x1="196.5" y1="531" x2="196.5" y2="535" stroke="#000" stroke-width="1"/>
<text x="196.5" y="543.8" font-size="10.5" text-anchor="middle">13E</text>
<line x1="256.5" y1="531" x2="256.5" y2="535" stroke="#000" stroke-width="1"/>
<text x="256.5" y="543.8" font-size="10.5" text-anchor="middle">14E</text>
<line x1="317.5" y1="531" x2="317.5" y2="535" stroke="#000" stroke-width="1"/>
<text x="317.5" y="543.8" font-size="10.5" text-anchor="middle">15E</text>
<line x1="377.5" y1="531" x2="377.5" y2="535" stroke="#000" stroke-width="1"/>
<text x="377.5" y="543.8" font-size="10.5" text-anchor="middle">16E</text>
<line x1="437.5" y1="531" x2="437.5" y2="535" stroke="#000" stroke-width="1"/>
<text x="437.5" y="543.8" font-size="10.5" text-anchor="middle">17E</text>
<line x1="498.5" y1="531" x2="498.5" y2="535" stroke="#000" stroke-width="1"/>
<text x="498.5" y="543.8" font-size="10.5" text-anchor="middle">18E</text>
<line x1="558.5" y1="531" x2="558.5" y2="535" stroke="#000" stroke-width="1"/>
<text x="558.5" y="543.8" font-size="10.5" text-anchor="middle">19E</text>
<line x1="618.8" y1="531" x2="618.8" y2="535" stroke="#000" stroke-width="1"/>
<text x="618.8" y="543.8" font-size="10.5" text-anchor="middle">20E</text>
<line x1="115.5" y1="106.5" x2="119" y2="106.5" stroke="#000" stroke-width="1"/>
<text x="96.6" y="110.6" font-size="10.2" textLength="17.8" lengthAdjust="spacingAndGlyphs">46N</text>
<line x1="115.5" y1="180.2" x2="119" y2="180.2" stroke="#000" stroke-width="1"/>
<text x="96.6" y="184.3" font-size="10.2" textLength="17.8" lengthAdjust="spacingAndGlyphs">45N</text>
<line x1="115.5" y1="254.0" x2="119" y2="254.0" stroke="#000" stroke-width="1"/>
<text x="96.6" y="258.1" font-size="10.2" textLength="17.8" lengthAdjust="spacingAndGlyphs">44N</text>
<line x1="115.5" y1="327.8" x2="119" y2="327.8" stroke="#000" stroke-width="1"/>
<text x="96.6" y="331.9" font-size="10.2" textLength="17.8" lengthAdjust="spacingAndGlyphs">43N</text>
<line x1="115.5" y1="401.5" x2="119" y2="401.5" stroke="#000" stroke-width="1"/>
<text x="96.6" y="405.6" font-size="10.2" textLength="17.8" lengthAdjust="spacingAndGlyphs">42N</text>
<line x1="115.5" y1="475.2" x2="119" y2="475.2" stroke="#000" stroke-width="1"/>
<text x="96.6" y="479.4" font-size="10.2" textLength="17.8" lengthAdjust="spacingAndGlyphs">41N</text>
<text class="t" x="170.2" y="40.3" font-size="16" textLength="99.0" lengthAdjust="spacing">Temperatura</text>
<text class="t" x="279.2" y="40.3" font-size="16" textLength="42.4" lengthAdjust="spacing">zraka</text>
<text class="t" x="331.6" y="40.3" font-size="16" textLength="17.0" lengthAdjust="spacing">na</text>
<text class="t" x="358.7" y="40.3" font-size="16" textLength="25.3" lengthAdjust="spacing">2m</text>
<text class="t" x="393.4" y="40.3" font-size="16" textLength="8.6" lengthAdjust="spacing">u</text>
<text class="t" x="412.0" y="40.3" font-size="16" textLength="16.3" lengthAdjust="spacing">21</text>
<text class="t" x="441.0" y="40.3" font-size="16" textLength="28.5" lengthAdjust="spacing">UTC</text>
<text class="t" x="479.9" y="40.3" font-size="16" textLength="90.3" lengthAdjust="spacing">21OCT2013</text>
<rect x="652" y="77" width="15" height="19" fill="#ffebd7" shape-rendering="crispEdges"/>
<rect x="652" y="96" width="15" height="18" fill="#d8bfd8" shape-rendering="crispEdges"/>
<rect x="652" y="114" width="15" height="19" fill="#dda0dd" shape-rendering="crispEdges"/>
<rect x="652" y="133" width="15" height="19" fill="#ba55d3" shape-rendering="crispEdges"/>
<rect x="652" y="152" width="15" height="18" fill="#8b008b" shape-rendering="crispEdges"/>
<rect x="652" y="170" width="15" height="19" fill="#960000" shape-rendering="crispEdges"/>
<rect x="652" y="189" width="15" height="19" fill="#cd0000" shape-rendering="crispEdges"/>
<rect x="652" y="208" width="15" height="18" fill="#ff0000" shape-rendering="crispEdges"/>
<rect x="652" y="226" width="15" height="19" fill="#ff5a00" shape-rendering="crispEdges"/>
<rect x="652" y="245" width="15" height="19" fill="#f08228" shape-rendering="crispEdges"/>
<rect x="652" y="264" width="15" height="18" fill="#e6af2d" shape-rendering="crispEdges"/>
<rect x="652" y="282" width="15" height="19" fill="#e6d932" shape-rendering="crispEdges"/>
<rect x="652" y="301" width="15" height="18" fill="#f2e954" shape-rendering="crispEdges"/>
<rect x="652" y="319" width="15" height="19" fill="#e0f2a6" shape-rendering="crispEdges"/>
<rect x="652" y="338" width="15" height="19" fill="#a0e632" shape-rendering="crispEdges"/>
<rect x="652" y="357" width="15" height="18" fill="#00e100" shape-rendering="crispEdges"/>
<rect x="652" y="375" width="15" height="19" fill="#00b400" shape-rendering="crispEdges"/>
<rect x="652" y="394" width="15" height="19" fill="#007d00" shape-rendering="crispEdges"/>
<rect x="652" y="413" width="15" height="18" fill="#1e3cff" shape-rendering="crispEdges"/>
<rect x="652" y="431" width="15" height="19" fill="#00a0f0" shape-rendering="crispEdges"/>
<rect x="652" y="450" width="15" height="19" fill="#aadce6" shape-rendering="crispEdges"/>
<rect x="652" y="469" width="15" height="18" fill="#e1ffff" shape-rendering="crispEdges"/>
<text x="669.6" y="81.2" font-size="11.8" textLength="14.5" lengthAdjust="spacing">29</text>
<text x="669.6" y="99.9" font-size="11.8" textLength="14.5" lengthAdjust="spacing">27</text>
<text x="669.6" y="118.5" font-size="11.8" textLength="14.5" lengthAdjust="spacing">25</text>
<text x="669.6" y="137.1" font-size="11.8" textLength="14.5" lengthAdjust="spacing">23</text>
<text x="669.6" y="155.8" font-size="11.8" textLength="14.5" lengthAdjust="spacing">21</text>
<text x="669.6" y="174.4" font-size="11.8" textLength="14.5" lengthAdjust="spacing">19</text>
<text x="669.6" y="193.1" font-size="11.8" textLength="14.5" lengthAdjust="spacing">17</text>
<text x="669.6" y="211.7" font-size="11.8" textLength="14.5" lengthAdjust="spacing">15</text>
<text x="669.6" y="230.4" font-size="11.8" textLength="14.5" lengthAdjust="spacing">13</text>
<text x="669.6" y="249.0" font-size="11.8" textLength="14.5" lengthAdjust="spacing">11</text>
<text x="669.6" y="267.7" font-size="11.8" textLength="6.9" lengthAdjust="spacing">9</text>
<text x="669.6" y="286.3" font-size="11.8" textLength="6.9" lengthAdjust="spacing">7</text>
<text x="669.6" y="305.0" font-size="11.8" textLength="6.9" lengthAdjust="spacing">5</text>
<text x="669.6" y="323.6" font-size="11.8" textLength="6.9" lengthAdjust="spacing">3</text>
<text x="669.6" y="342.3" font-size="11.8" textLength="6.9" lengthAdjust="spacing">1</text>
<line x1="671" y1="356.9" x2="678.5" y2="356.9" stroke="#000" stroke-width="1"/>
<text x="681.3" y="360.9" font-size="11.8" textLength="6.9" lengthAdjust="spacing">1</text>
<line x1="671" y1="375.6" x2="678.5" y2="375.6" stroke="#000" stroke-width="1"/>
<text x="681.3" y="379.6" font-size="11.8" textLength="6.9" lengthAdjust="spacing">3</text>
<line x1="671" y1="394.2" x2="678.5" y2="394.2" stroke="#000" stroke-width="1"/>
<text x="681.3" y="398.2" font-size="11.8" textLength="6.9" lengthAdjust="spacing">5</text>
<line x1="671" y1="412.9" x2="678.5" y2="412.9" stroke="#000" stroke-width="1"/>
<text x="681.3" y="416.9" font-size="11.8" textLength="6.9" lengthAdjust="spacing">7</text>
<line x1="671" y1="431.5" x2="678.5" y2="431.5" stroke="#000" stroke-width="1"/>
<text x="681.3" y="435.5" font-size="11.8" textLength="6.9" lengthAdjust="spacing">9</text>
<line x1="671" y1="450.2" x2="678.5" y2="450.2" stroke="#000" stroke-width="1"/>
<text x="681.3" y="454.2" font-size="11.8" textLength="14.5" lengthAdjust="spacing">11</text>
<line x1="671" y1="468.8" x2="678.5" y2="468.8" stroke="#000" stroke-width="1"/>
<text x="681.3" y="472.8" font-size="11.8" textLength="14.5" lengthAdjust="spacing">13</text>
<line x1="671" y1="487.5" x2="678.5" y2="487.5" stroke="#000" stroke-width="1"/>
<text x="681.3" y="491.5" font-size="11.8" textLength="14.5" lengthAdjust="spacing">15</text>
<line x1="671" y1="506.1" x2="678.5" y2="506.1" stroke="#000" stroke-width="1"/>
<text x="681.3" y="510.1" font-size="11.8" textLength="14.5" lengthAdjust="spacing">17</text>
<text x="663.5" y="528" font-size="9.8" textLength="34.5" lengthAdjust="spacing">(st. C)</text>
</svg>
</body></html>
